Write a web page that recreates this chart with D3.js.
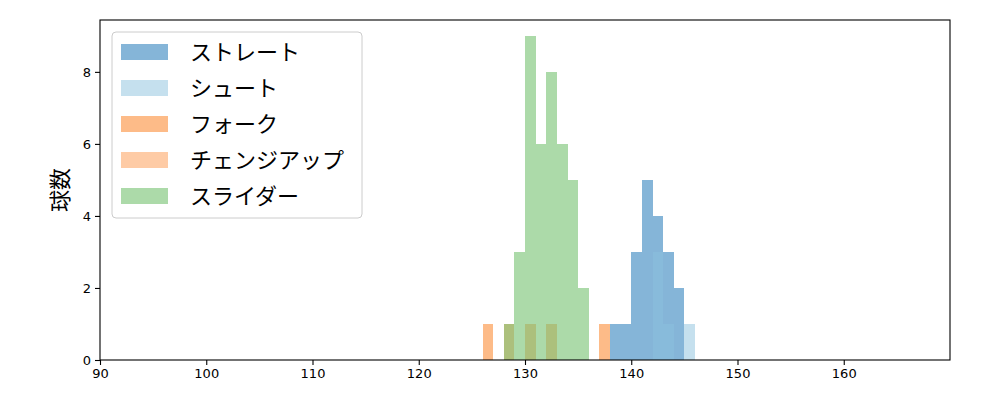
<!DOCTYPE html>
<html>
<head>
<meta charset="utf-8">
<script src="https://cdn.jsdelivr.net/npm/d3@7"></script>
<style>
  body { margin: 0; background: #fff; }
  .tick text { font-family: "DejaVu Sans", sans-serif; font-size: 13px; fill: #000; }
</style>
</head>
<body>
<script>
// pitch types in drawing order
let pitchNames = ["ストレート", "シュート", "フォーク", "チェンジアップ", "スライダー"];
let pitchColors = ["#0b6bb1", "#8bc1dd", "#fb7711", "#fd974b", "#59b553"];

// histogram bins per pitch type: left edge (km/h) and count, bin width 1
let straightBins = [138, 139, 140, 141, 142, 143, 144];
let straightCounts = [1, 1, 3, 5, 4, 3, 2];
let shootBins = [142, 143, 145];
let shootCounts = [3, 1, 1];
let forkBins = [126, 137];
let forkCounts = [1, 1];
let changeBins = [128, 130, 132];
let changeCounts = [1, 1, 1];
let sliderBins = [128, 129, 130, 131, 132, 133, 134, 135];
let sliderCounts = [1, 3, 9, 6, 8, 6, 5, 2];

let xTicks = [90, 100, 110, 120, 130, 140, 150, 160];
let yTicks = [0, 2, 4, 6, 8];

let series = [
  [straightBins, straightCounts],
  [shootBins, shootCounts],
  [forkBins, forkCounts],
  [changeBins, changeCounts],
  [sliderBins, sliderCounts]
];

let svgWidth = 1000, svgHeight = 400;
let margin = {top: 20, right: 50, bottom: 40, left: 100};
let width = svgWidth - margin.left - margin.right;
let height = svgHeight - margin.top - margin.bottom;

let svg = d3.select("body").append("svg")
  .attr("width", svgWidth)
  .attr("height", svgHeight);

let chartGroup = svg.append("g")
  .attr("transform", `translate(${margin.left}, ${margin.top})`);

let x = d3.scaleLinear().domain([90, 170]).range([0, width]);
let y = d3.scaleLinear().domain([0, 9.44]).range([height, 0]);

// bars
series.forEach(function(s, i) {
  let rows = s[0].map((b, j) => ({start: b, count: s[1][j]}));
  chartGroup.selectAll(".bar" + i)
    .data(rows)
    .enter()
    .append("rect")
    .attr("x", d => x(d.start))
    .attr("width", d => x(d.start + 1) - x(d.start))
    .attr("y", d => y(d.count))
    .attr("height", d => y(0) - y(d.count))
    .attr("fill", pitchColors[i])
    .attr("fill-opacity", 0.5)
    .attr("shape-rendering", "crispEdges");
});

// axes
let bottomAxis = d3.axisBottom(x).tickValues(xTicks).tickSize(5).tickPadding(4);
let leftAxis = d3.axisLeft(y).tickValues(yTicks).tickSize(5).tickPadding(4);

chartGroup.append("g")
  .attr("transform", `translate(0, ${height})`)
  .call(bottomAxis)
  .call(g => g.select(".domain").remove());

chartGroup.append("g")
  .call(leftAxis)
  .call(g => g.select(".domain").remove());

chartGroup.selectAll(".tick line").attr("stroke", "#000").attr("stroke-width", 1.1);

// frame
chartGroup.append("rect")
  .attr("x", 0).attr("y", 0)
  .attr("width", width).attr("height", height)
  .attr("fill", "none")
  .attr("stroke", "#000")
  .attr("stroke-width", 1.1);

// y label
svg.append("text")
  .attr("transform", `translate(68, ${margin.top + height / 2}) rotate(-90)`)
  .attr("text-anchor", "middle")
  .style("font-family", "'Noto Sans CJK JP', sans-serif")
  .style("font-size", "22px")
  .text("球数");

// legend
let legend = svg.append("g").attr("transform", "translate(112, 32)");
legend.append("rect")
  .attr("width", 250).attr("height", 186)
  .attr("rx", 4)
  .attr("fill", "#fff").attr("fill-opacity", 0.8)
  .attr("stroke", "#ccc");

pitchNames.forEach(function(name, i) {
  let row = legend.append("g").attr("transform", `translate(0, ${20 + i * 36})`);
  row.append("rect")
    .attr("x", 9).attr("y", -8)
    .attr("width", 47).attr("height", 16)
    .attr("fill", pitchColors[i])
    .attr("fill-opacity", 0.5);
  row.append("text")
    .attr("x", 78).attr("y", 8)
    .style("font-family", "'Noto Sans CJK JP', sans-serif")
    .style("font-size", "22px")
    .text(name);
});
</script>
</body>
</html>
